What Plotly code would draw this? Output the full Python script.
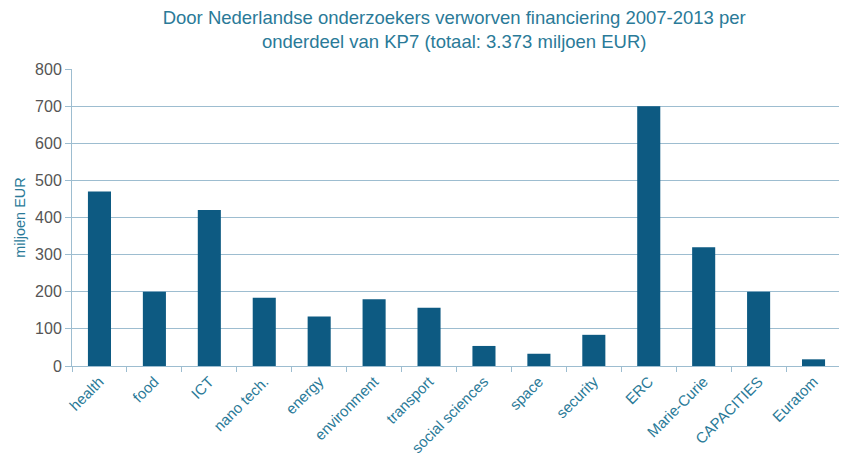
import plotly.graph_objects as go

categories = ["health", "food", "ICT", "nano tech.", "energy", "environment", "transport",
              "social sciences", "space", "security", "ERC", "Marie-Curie", "CAPACITIES", "Euratom"]
values = [470, 200, 420, 184, 133, 180, 157, 54, 33, 84, 700, 320, 200, 18]
y_ticks = [0, 100, 200, 300, 400, 500, 600, 700, 800]

bar_color = "#0d5a82"
text_color = "#2a7a98"
grid_color = "#9dbdd0"

fig = go.Figure(go.Bar(x=categories, y=values, marker=dict(color=bar_color, line=dict(width=0))))

# page body has an 8px margin, so the figure is sized/positioned to compensate
fig.update_layout(
    width=839, height=448,
    margin=dict(l=64, r=6, t=61, b=90),
    paper_bgcolor="white", plot_bgcolor="white",
    bargap=0.58,
    showlegend=False,
    font=dict(family="Liberation Sans, Arial, sans-serif", size=14, color=text_color),
    title=dict(
        text="Door Nederlandse onderzoekers verworven financiering 2007-2013 per<br>onderdeel van KP7 (totaal: 3.373 miljoen EUR)",
        x=0.497, xanchor="center", xref="paper", yref="container", y=0.965, yanchor="top",
        font=dict(size=18.5, color=text_color),
    ),
)
fig.update_xaxes(
    type="category", tickson="boundaries", ticks="outside", ticklen=5, tickcolor=grid_color,
    showline=True, linecolor=grid_color, linewidth=1, tickangle=-45, automargin=False,
    tickfont=dict(size=15, color=text_color), showgrid=False,
)
fig.update_yaxes(
    range=[0, 800], tickvals=y_ticks, ticks="outside", ticklen=6, tickcolor=grid_color,
    showline=True, linecolor=grid_color, linewidth=1, automargin=False,
    showgrid=True, gridcolor=grid_color, gridwidth=1, zeroline=False,
    tickfont=dict(size=16, color="#555555"),
    title=dict(text="miljoen EUR", font=dict(size=14.5, color=text_color), standoff=6),
)
fig.write_html("out.html")
